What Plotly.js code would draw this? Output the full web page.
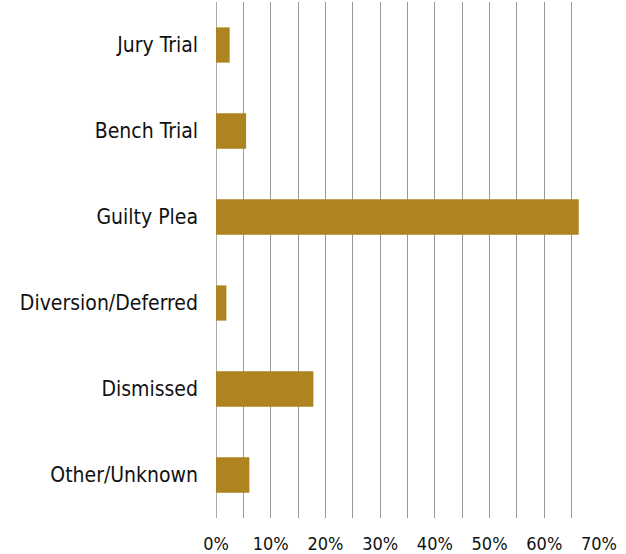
<!DOCTYPE html>
<html>
<head>
<meta charset="utf-8">
<script src="https://cdn.plot.ly/plotly-3.0.1.min.js"></script>
<style>html,body{margin:0;padding:0;background:#fff;}#chart{width:626px;height:554px;}</style>
</head>
<body>
<div id="chart"></div>
<script>
const categories = ["Jury Trial", "Bench Trial", "Guilty Plea", "Diversion/Deferred", "Dismissed", "Other/Unknown"];
const shares = [0.025, 0.055, 0.663, 0.019, 0.178, 0.061];
const tickValues = [0, 0.1, 0.2, 0.3, 0.4, 0.5, 0.6, 0.7];
const tickLabels = ["0%", "10%", "20%", "30%", "40%", "50%", "60%", "70%"];

const trace = {
  type: 'bar',
  orientation: 'h',
  y: categories,
  x: shares,
  marker: {color: '#AE8421', line: {width: 0}},
  hoverinfo: 'x+y'
};

const layout = {
  width: 626, height: 554,
  margin: {l: 216, r: 27, t: 2, b: 36},
  paper_bgcolor: '#fff', plot_bgcolor: '#fff',
  bargap: 0.59,
  showlegend: false,
  font: {family: 'DejaVu Sans Condensed, DejaVu Sans, sans-serif', size: 18, color: '#111'},
  xaxis: {
    range: [0, 0.7],
    tickvals: tickValues,
    ticktext: tickLabels,
    tickfont: {family: 'DejaVu Sans Condensed, DejaVu Sans, sans-serif', size: 18, color: '#111'},
    showgrid: true,
    gridcolor: '#999',
    gridwidth: 1,
    minor: {dtick: 0.05, showgrid: true, gridcolor: '#999', gridwidth: 1},
    zeroline: true, zerolinecolor: '#aaa', zerolinewidth: 1,
    showline: false,
    ticks: '',
    ticklabelstandoff: 13,
    fixedrange: true
  },
  yaxis: {
    autorange: 'reversed',
    type: 'category',
    tickfont: {family: 'DejaVu Sans Condensed, DejaVu Sans, sans-serif', size: 21, color: '#111'},
    ticks: '',
    showgrid: false,
    showline: false,
    ticklabelstandoff: 17,
    fixedrange: true
  }
};

Plotly.newPlot('chart', [trace], layout, {displayModeBar: false, staticPlot: true});
</script>
</body>
</html>
